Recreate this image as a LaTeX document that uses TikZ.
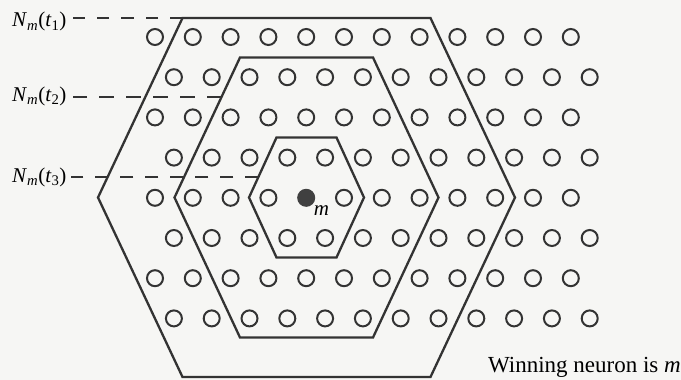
\documentclass[tikz,border=0pt]{standalone}
\usepackage{fontspec}
\setmainfont{Liberation Serif}
\usepackage{tikz}
\usetikzlibrary{calc}
\definecolor{InkGray}{HTML}{333333}
\definecolor{WinFill}{HTML}{404040}
\definecolor{PaperBg}{HTML}{F6F6F4}
\newcommand{\Nm}[1]{\textit{N}\textsubscript{\textit{m}}(\textit{t}\textsubscript{#1})}
\newcommand{\lblfont}{\fontsize{21}{24}\selectfont}

\begin{document}
\begin{tikzpicture}[x=1pt,y=-1pt,
  neuron/.style={circle,draw=InkGray,line width=2pt,minimum size=16pt,inner sep=0pt},
  winner/.style={neuron,fill=WinFill,draw=WinFill},
  hexline/.style={line width=2.3pt,InkGray,line join=miter},
  guide/.style={line width=1.4pt,InkGray,dash pattern=on #1 off 12pt},
  lbl/.style={font=\lblfont,anchor=base west,inner sep=0pt}]
  \fill[PaperBg] (0,0) rectangle (681,380);
  \useasboundingbox (0,0) rectangle (681,380);
  % neurons on the lattice
  \foreach \j in {0,...,7}{
    \pgfmathsetmacro{\shift}{mod(\j,2)*18.9}
    \foreach \k in {0,...,11}{
      \ifnum\numexpr12*\j+\k\relax=52 \def\kind{winner}\else\def\kind{neuron}\fi
      \node[\kind] (n-\j-\k) at ({155+\shift+37.8*\k},{37+40.2*\j}) {};
    }
  }
  \node[font=\lblfont,anchor=north west,inner sep=1pt] (mlbl) at (n-4-4.south east) {\textit{m}};
  % neighbourhoods N_m(t1), N_m(t2), N_m(t3)
  \foreach \nm/\a/\b/\h in {outer/124/208.5/179.5,mid/66.5/132/140,inner/30/57.5/60}{
    \draw[hexline] (306.5-\a,197.5-\h) coordinate (\nm-tl) -- (306.5+\a,197.5-\h)
      -- (306.5+\b,197.5) -- (306.5+\a,197.5+\h) -- (306.5-\a,197.5+\h)
      -- (306.5-\b,197.5) coordinate (\nm-l) -- cycle;
  }
  \coordinate (e2) at ($(mid-tl)!0.282!(mid-l)$);
  \coordinate (e3) at ($(inner-tl)!0.658!(inner-l)$);
  \node[lbl] (t1) at (12,27) {\Nm{1}};
  \node[lbl] (t2) at (12,101) {\Nm{2}};
  \node[lbl] (t3) at (12,182) {\Nm{3}};
  \draw[guide=12.5pt] (outer-tl) -- ([xshift=6pt]t1.east |- outer-tl);
  \draw[guide=14.9pt] (e2) -- ([xshift=6pt]t2.east |- e2);
  \draw[guide=13pt] (e3) -- ([xshift=4pt]t3.east |- e3);
  \node[anchor=base east,inner sep=0pt,font=\fontsize{23}{27}\selectfont] (caption) at (681,372)
    {Winning neuron is \textit{m}};
\end{tikzpicture}
\end{document}
